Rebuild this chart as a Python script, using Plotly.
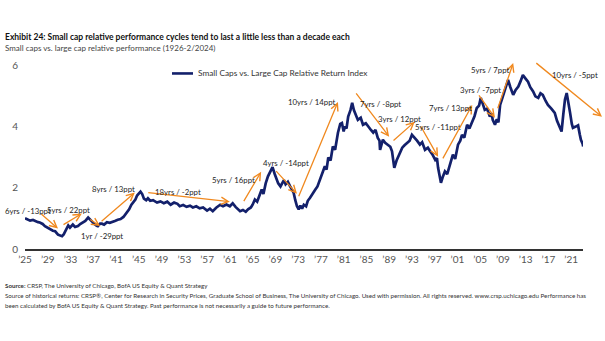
import plotly.graph_objects as go

# Small caps vs. large caps relative return index (decimal year, index level)
years = [
    1925.0, 1925.5, 1925.9, 1926.4, 1926.8, 1927.3, 1927.6, 1928.1, 1928.5, 1929.0,
    1929.4, 1929.9, 1930.3, 1930.6, 1930.8, 1931.2, 1931.5, 1931.8, 1932.0, 1932.3,
    1932.6, 1932.9, 1933.4, 1933.8, 1934.3, 1934.7, 1935.2, 1935.6, 1936.1, 1936.5,
    1936.8, 1937.1, 1937.3, 1937.6, 1937.8, 1938.2, 1938.5, 1938.9, 1939.4, 1939.9,
    1940.3, 1940.8, 1941.3, 1941.8, 1942.3, 1942.9, 1943.3, 1943.7, 1944.0, 1944.4,
    1944.7, 1945.0, 1945.3, 1945.6, 1945.9, 1946.3, 1946.6, 1947.0, 1947.5, 1948.2,
    1948.8, 1949.4, 1950.0, 1950.6, 1951.2, 1951.8, 1952.2, 1952.8, 1953.4, 1954.0,
    1954.5, 1955.1, 1955.7, 1956.3, 1957.0, 1957.5, 1958.0, 1958.6, 1959.3, 1959.8,
    1960.4, 1961.0, 1961.5, 1962.0, 1962.5, 1962.8, 1963.3, 1963.8, 1964.2, 1964.7,
    1965.0, 1965.4, 1965.8, 1966.3, 1966.6, 1966.9, 1967.3, 1967.7, 1968.1, 1968.5,
    1968.9, 1969.2, 1969.5, 1969.9, 1970.2, 1970.5, 1970.8, 1971.2, 1971.6, 1971.9,
    1972.2, 1972.5, 1972.8, 1973.1, 1973.4, 1973.7, 1974.0, 1974.4, 1974.7, 1975.1,
    1975.5, 1976.0, 1976.4, 1976.8, 1977.2, 1977.7, 1978.0, 1978.3, 1978.7, 1979.1,
    1979.5, 1980.0, 1980.4, 1980.7, 1981.0, 1981.2, 1981.5, 1981.8, 1982.2, 1982.5,
    1982.8, 1983.0, 1983.5, 1984.0, 1984.4, 1984.9, 1985.3, 1985.8, 1986.2, 1986.6,
    1987.0, 1987.3, 1987.4, 1987.9, 1988.3, 1988.8, 1989.2, 1989.5, 1989.9, 1990.3,
    1990.6, 1991.0, 1991.3, 1991.7, 1992.1, 1992.6, 1993.0, 1993.5, 1993.9, 1994.4,
    1994.8, 1995.3, 1995.8, 1996.2, 1996.6, 1997.1, 1997.4, 1997.6, 1997.9, 1998.1,
    1998.4, 1998.8, 1999.2, 1999.7, 2000.2, 2000.6, 2001.1, 2001.5, 2001.8, 2002.2,
    2002.7, 2003.1, 2003.6, 2004.0, 2004.4, 2004.8, 2005.1, 2005.5, 2005.8, 2006.2,
    2006.7, 2007.0, 2007.2, 2007.6, 2007.9, 2008.2, 2008.5, 2008.9, 2009.4, 2009.9,
    2010.3, 2010.8, 2011.2, 2011.7, 2012.1, 2012.5, 2012.9, 2013.4, 2013.8, 2014.3,
    2014.7, 2015.2, 2015.6, 2016.0, 2016.5, 2016.9, 2017.5, 2018.1, 2018.5, 2019.0,
    2019.3, 2019.6, 2019.9, 2020.2, 2020.5, 2020.8, 2021.1, 2021.3, 2021.8, 2022.2,
    2022.5, 2022.7, 2023.0, 2023.1,
]
index_level = [
    1.01, 0.97, 0.93, 0.95, 0.91, 0.88, 0.87, 0.82, 0.75, 0.70,
    0.64, 0.60, 0.58, 0.52, 0.47, 0.44, 0.42, 0.48, 0.55, 0.62,
    0.77, 0.70, 0.80, 0.72, 0.75, 0.82, 0.87, 0.92, 1.03, 0.95,
    0.88, 0.82, 0.80, 0.76, 0.75, 0.83, 0.83, 0.80, 0.88, 0.86,
    0.88, 0.92, 0.96, 0.98, 1.05, 1.19, 1.30, 1.45, 1.52, 1.62,
    1.75, 1.82, 1.88, 1.80, 1.65, 1.60, 1.66, 1.58, 1.60, 1.52,
    1.56, 1.50, 1.55, 1.45, 1.52, 1.48, 1.40, 1.44, 1.38, 1.42,
    1.36, 1.40, 1.33, 1.36, 1.26, 1.32, 1.24, 1.35, 1.45, 1.40,
    1.46, 1.40, 1.50, 1.38, 1.30, 1.24, 1.28, 1.22, 1.30, 1.36,
    1.45, 1.62, 1.55, 1.82, 1.95, 1.80, 2.15, 2.38, 2.52, 2.68,
    2.45, 2.30, 2.15, 2.05, 2.15, 2.26, 2.12, 2.20, 2.05, 1.95,
    1.85, 1.60, 1.40, 1.30, 1.42, 1.32, 1.45, 1.40, 1.58, 1.68,
    1.78, 1.94, 2.05, 2.27, 2.45, 2.71, 2.60, 3.00, 2.90, 3.36,
    3.25, 3.81, 4.10, 4.13, 3.85, 4.01, 3.95, 4.34, 4.55, 4.79,
    4.55, 4.46, 4.23, 4.30, 4.07, 4.12, 4.01, 3.90, 3.81, 3.90,
    3.64, 3.55, 3.25, 3.58, 3.48, 3.42, 3.35, 3.20, 2.66, 2.90,
    3.03, 3.15, 3.32, 3.40, 3.48, 3.55, 3.74, 3.64, 3.55, 3.42,
    3.50, 3.25, 3.32, 3.20, 3.10, 2.92, 2.98, 2.66, 2.30, 2.17,
    2.35, 2.54, 2.45, 2.76, 3.09, 2.95, 3.42, 3.55, 3.74, 3.65,
    4.07, 3.95, 4.18, 4.35, 4.62, 4.70, 4.95, 4.70, 4.56, 4.60,
    4.34, 4.45, 4.23, 4.07, 4.25, 4.15, 4.72, 4.95, 5.28, 5.54,
    5.30, 5.05, 5.20, 5.32, 5.50, 5.70, 5.60, 5.48, 5.30, 5.16,
    5.00, 4.95, 5.10, 5.05, 4.85, 4.72, 4.60, 4.46, 4.20, 3.97,
    3.85, 4.40, 4.90, 5.11, 4.70, 4.46, 4.10, 3.97, 4.01, 4.05,
    3.75, 3.58, 3.45, 3.36,
]

# Axis ticks
tick_years = list(range(1925, 2022, 4))
tick_text = ["\u2019" + str(y)[2:] for y in tick_years]
y_ticks = [0, 2, 4, 6]

# Relative performance cycles: label, start (year, level), end (year, level), label anchor
cycle_labels = [
    "6yrs / -13ppt", "5yrs / 22ppt", "1yr / -29ppt", "8yrs / 13ppt", "18yrs / -2ppt",
    "5yrs / 16ppt", "4yrs / -14ppt", "10yrs / 14ppt", "7yrs / -8ppt", "3yrs / 12ppt",
    "5yrs / -11ppt", "7yrs / 13ppt", "3yrs / -7ppt", "5yrs / 7ppt", "10yrs / -5ppt",
]
cycle_start_year = [1927.6, 1931.5, 1936.2, 1938.2, 1946.4, 1963.3, 1968.9, 1973.0, 1983.0, 1989.5,
                    1994.4, 1998.3, 2004.6, 2008.0, 2014.6]
cycle_start_level = [1.19, 0.77, 1.00, 0.87, 1.85, 1.52, 2.60, 1.68, 5.15, 3.51,
                     4.07, 2.92, 5.08, 4.56, 6.13]
cycle_end_year = [1930.8, 1935.0, 1938.2, 1944.3, 1961.0, 1966.5, 1972.8, 1980.0, 1989.0, 1993.5,
                  1997.6, 2003.6, 2007.6, 2010.8, 2026.4]
cycle_end_level = [0.67, 1.16, 0.75, 1.85, 1.55, 2.53, 1.81, 4.82, 3.68, 4.17,
                   3.02, 4.72, 4.30, 6.09, 4.33]
label_year = [1925.5, 1932.7, 1938.5, 1940.5, 1951.9, 1961.6, 1970.9, 1975.4, 1987.4, 1990.9,
              1997.6, 1999.7, 2005.0, 2006.7, 2021.7]
label_level = [1.24, 1.27, 0.44, 1.98, 1.88, 2.25, 2.83, 4.82, 4.75, 4.26,
               4.00, 4.62, 5.21, 5.87, 5.70]

NAVY = "#13206b"
ORANGE = "#f0891f"
FONT = "Lato, Liberation Sans, sans-serif"

W, H = 605, 341
L, R, T, B = 25, 22, 54, 91.5
PX_PER_YEAR = 5.69
PX_PER_UNIT = 30.6
plot_w = W - L - R
plot_h = H - T - B
x_range = [1925, 1925 + plot_w / PX_PER_YEAR]
y_range = [0, plot_h / PX_PER_UNIT]


def px_x(px):
    return (px - L) / plot_w


def px_y(py):
    return (H - B - py) / plot_h


fig = go.Figure()
fig.add_trace(go.Scatter(
    x=years, y=index_level, mode="lines",
    name="Small Caps vs. Large Cap Relative Return Index",
    line=dict(color=NAVY, width=2.7),
    showlegend=False,
))

annotations = []
for i, lab in enumerate(cycle_labels):
    annotations.append(dict(
        x=cycle_end_year[i], y=cycle_end_level[i], xref="x", yref="y",
        ax=cycle_start_year[i], ay=cycle_start_level[i], axref="x", ayref="y",
        text="", showarrow=True, arrowhead=5, arrowsize=1.1, arrowwidth=1.3,
        arrowcolor=ORANGE, standoff=0, startstandoff=0,
    ))
    annotations.append(dict(
        x=label_year[i], y=label_level[i], xref="x", yref="y",
        text=lab, showarrow=False, xanchor="center", yanchor="middle",
        font=dict(family=FONT, size=7.8, color="#1e1e1e"),
    ))

# Title block
annotations.append(dict(
    x=px_x(3), y=px_y(37), xref="paper", yref="paper", xanchor="left", yanchor="middle",
    text="<b>Exhibit 24: Small cap relative performance cycles tend to last a little less than a decade each</b>",
    showarrow=False, font=dict(family=FONT, size=8.5, color="#111111"),
))
annotations.append(dict(
    x=px_x(3), y=px_y(48), xref="paper", yref="paper", xanchor="left", yanchor="middle",
    text="Small caps vs. large cap relative performance (1926-2/2024)",
    showarrow=False, font=dict(family=FONT, size=8.0, color="#444444"),
))

# Legend entry
annotations.append(dict(
    x=px_x(196), y=px_y(73.5), xref="paper", yref="paper", xanchor="left", yanchor="middle",
    text="Small Caps vs. Large Cap Relative Return Index",
    showarrow=False, font=dict(family=FONT, size=8.3, color="#333333"),
))

# Footer
footer = [
    (286, "<b>Source:</b> CRSP, The University of Chicago, BofA US Equity &amp; Quant Strategy"),
    (296.5, "Source of historical returns: CRSP\u00ae, Center for Research in Security Prices, Graduate School of Business, "
            "The University of Chicago. Used with permission. All rights reserved. www.crsp.uchicago.edu Performance has"),
    (306.5, "been calculated by BofA US Equity &amp; Quant Strategy. Past performance is not necessarily a guide to future performance."),
]
for py, txt in footer:
    annotations.append(dict(
        x=px_x(3), y=px_y(py), xref="paper", yref="paper", xanchor="left", yanchor="middle",
        text=txt, showarrow=False, font=dict(family=FONT, size=6.2, color="#333333"),
    ))

shapes = [dict(
    type="line", xref="paper", yref="paper",
    x0=px_x(172), x1=px_x(193), y0=px_y(73.5), y1=px_y(73.5),
    line=dict(color=NAVY, width=2.6),
)]

fig.update_layout(
    width=W, height=H,
    margin=dict(l=L, r=R, t=T, b=B, pad=0),
    paper_bgcolor="white", plot_bgcolor="white",
    font=dict(family=FONT, color="#555555"),
    annotations=annotations, shapes=shapes,
    xaxis=dict(
        range=x_range, tickvals=tick_years, ticktext=tick_text,
        showgrid=False, zeroline=False, showline=True, linecolor="#333333", linewidth=1.5,
        ticks="", tickfont=dict(family=FONT, size=10, color="#555555"), fixedrange=True,
        ticklabelstandoff=0,
    ),
    yaxis=dict(
        range=y_range, tickvals=y_ticks, showgrid=False, zeroline=False, showline=False,
        ticks="", tickfont=dict(family=FONT, size=10, color="#555555"),
        ticklabelstandoff=6, fixedrange=True,
    ),
    showlegend=False,
)

fig.write_html("out.html")
